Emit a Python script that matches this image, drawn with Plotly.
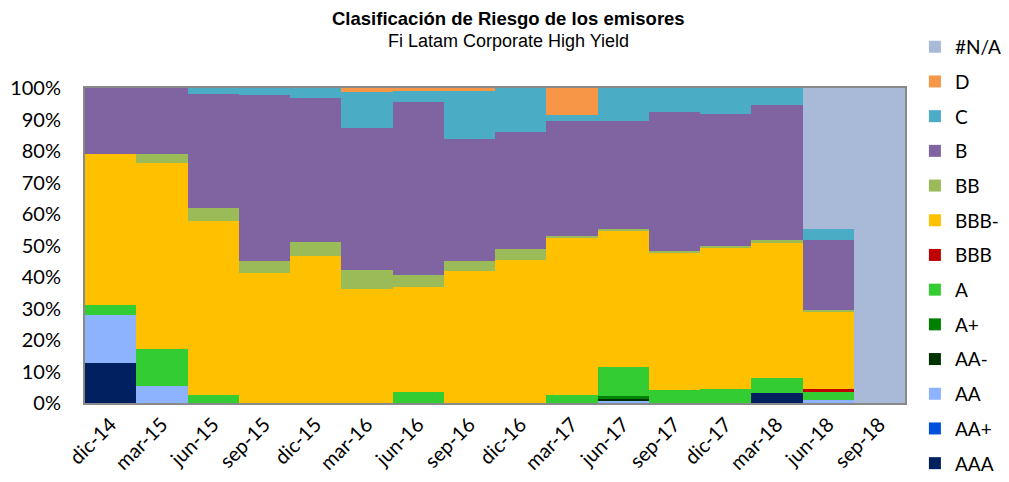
import plotly.graph_objects as go

categories = ["dic-14", "mar-15", "jun-15", "sep-15", "dic-15", "mar-16", "jun-16", "sep-16",
              "dic-16", "mar-17", "jun-17", "sep-17", "dic-17", "mar-18", "jun-18", "sep-18"]

AAA   = [12.8, 0, 0, 0, 0, 0, 0, 0, 0, 0, 0, 0, 0, 3.3, 0, 0]
AA_p  = [0, 0, 0, 0, 0, 0, 0, 0, 0, 0, 0, 0, 0, 0, 0, 0]
AA    = [15.1, 5.4, 0, 0, 0, 0, 0, 0, 0, 0, 0.8, 0, 0, 0, 0.8, 0]
AA_m  = [0, 0, 0, 0, 0, 0, 0, 0, 0, 0, 0.6, 0, 0, 0, 0, 0]
A_p   = [0, 0, 0, 0, 0, 0, 0, 0, 0, 0, 0.7, 0, 0, 0, 0, 0]
A     = [3.1, 11.6, 2.6, 0, 0, 0, 3.6, 0, 0, 2.6, 9.2, 4.2, 4.4, 4.7, 2.7, 0]
BBB   = [0, 0, 0, 0, 0, 0, 0, 0, 0, 0, 0, 0, 0, 0, 0.9, 0]
BBB_m = [48.0, 59.1, 55.2, 41.4, 46.6, 36.2, 33.2, 41.9, 45.4, 49.7, 43.4, 43.6, 45.0, 42.9, 24.4, 0]
BB    = [0, 2.9, 4.1, 3.7, 4.5, 6.0, 3.7, 3.2, 3.4, 0.7, 0.5, 0.5, 0.3, 0.7, 0.7, 0]
B     = [21.0, 21.0, 36.3, 52.6, 45.8, 45.0, 54.9, 38.8, 37.1, 36.6, 34.4, 44.0, 41.9, 43.1, 22.3, 0]
C     = [0, 0, 1.8, 2.3, 3.1, 11.6, 3.8, 15.1, 14.1, 1.9, 10.4, 7.7, 8.4, 5.3, 3.5, 0]
D     = [0, 0, 0, 0, 0, 1.2, 0.8, 1.0, 0, 8.5, 0, 0, 0, 0, 0, 0]
NA    = [0, 0, 0, 0, 0, 0, 0, 0, 0, 0, 0, 0, 0, 0, 44.7, 100]

series = [
    ("AAA", AAA, "#002060"),
    ("AA+", AA_p, "#0050DC"),
    ("AA", AA, "#8DB3FF"),
    ("AA-", AA_m, "#003300"),
    ("A+", A_p, "#008000"),
    ("A", A, "#33CC33"),
    ("BBB", BBB, "#C00000"),
    ("BBB-", BBB_m, "#FFC000"),
    ("BB", BB, "#9BBB59"),
    ("B", B, "#8064A2"),
    ("C", C, "#4BACC6"),
    ("D", D, "#F79646"),
    ("#N/A", NA, "#A9B9D8"),
]

fig = go.Figure()
n = len(series)
for i, (name, vals, col) in enumerate(series):
    fig.add_trace(go.Bar(x=categories, y=vals, name=name, legendgroup=name,
                         legendrank=n - i,
                         marker=dict(color=col, line=dict(width=0))))

tick_font = dict(family="Lato", size=20, color="#000000")

fig.update_layout(
    barmode="stack",
    bargap=0,
    width=1001, height=474,
    margin=dict(l=77, r=104, t=80, b=79, autoexpand=False),
    plot_bgcolor="white",
    paper_bgcolor="white",
    showlegend=True,
    legend=dict(traceorder="grouped", xref="container", yref="container",
                x=0.906, xanchor="left", y=0.958, yanchor="top",
                font=dict(family="Lato", size=19, color="#000000"),
                tracegroupgap=7.0, bgcolor="rgba(0,0,0,0)", maxheight=470),
    xaxis=dict(type="category", tickangle=-45, tickfont=tick_font, showgrid=False,
               showline=True, linecolor="#898989", linewidth=2, mirror=True, ticks="",
               automargin=False),
    yaxis=dict(range=[0, 100], dtick=10, ticksuffix="%", tickfont=tick_font, showgrid=False,
               showline=True, linecolor="#898989", linewidth=2, mirror=True, ticks="",
               ticklabelstandoff=18, automargin=False),
    annotations=[
        dict(text="<b>Clasificación de Riesgo de los emisores</b>", xref="paper", yref="paper",
             x=0.517, y=1.222, showarrow=False, xanchor="center", yanchor="middle",
             font=dict(family="Liberation Sans", size=18.5, color="#000000")),
        dict(text="Fi Latam Corporate High Yield", xref="paper", yref="paper",
             x=0.517, y=1.149, showarrow=False, xanchor="center", yanchor="middle",
             font=dict(family="Liberation Sans", size=18, color="#000000")),
    ],
)

fig.write_html("out.html")
